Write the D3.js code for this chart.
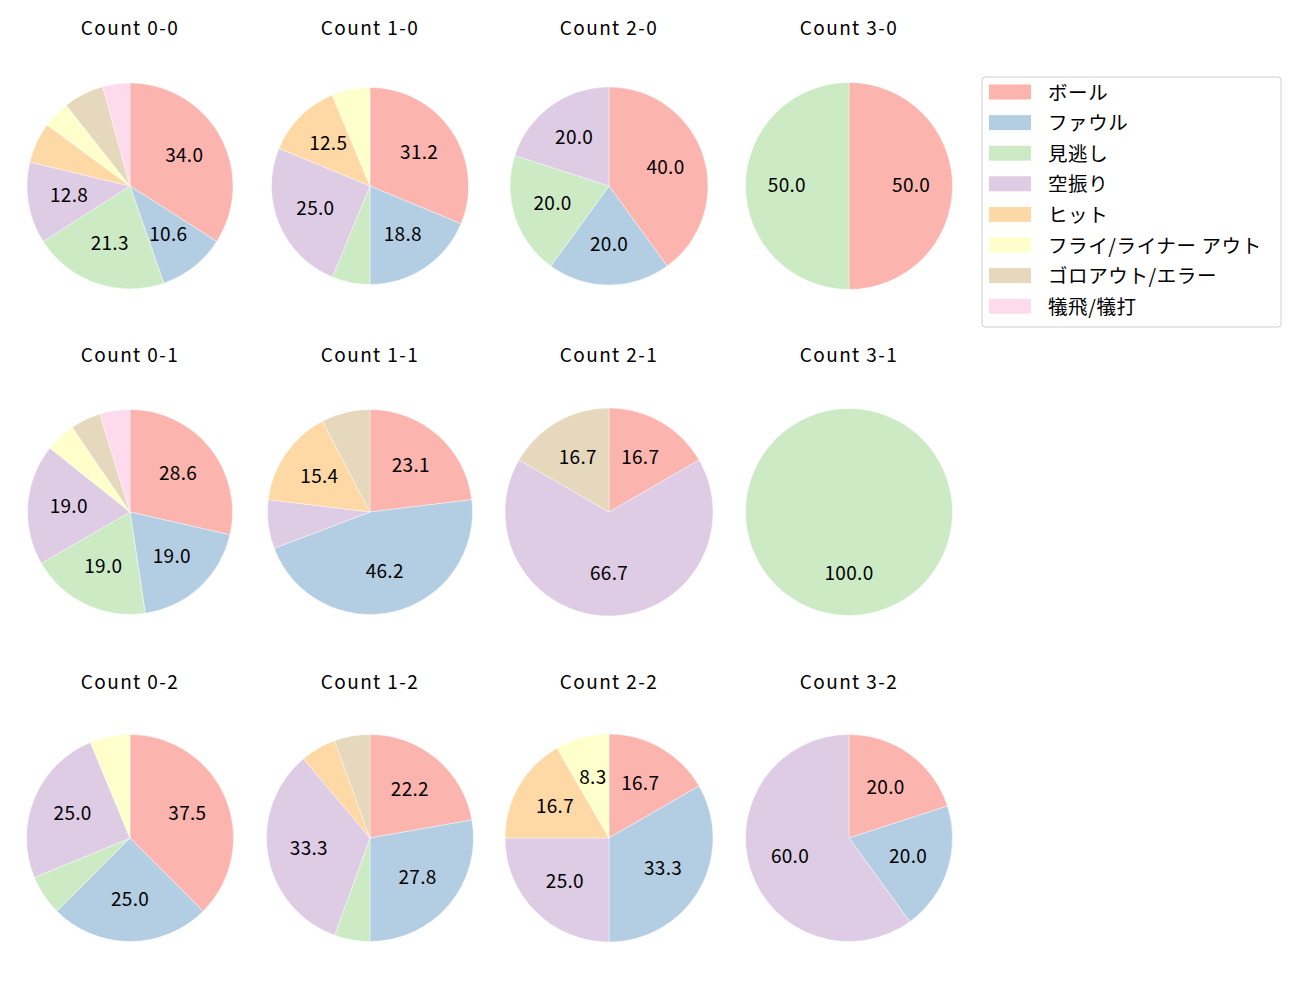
<!DOCTYPE html>
<html><head><meta charset="utf-8">
<script src="https://cdn.jsdelivr.net/npm/d3@7"></script>
<style>body{margin:0;background:#fff;} text{font-family:"Noto Sans CJK JP","Noto Sans",sans-serif;}</style>
</head><body>
<svg id="chart" width="1300" height="1000"></svg>
<script>
const categories = ["ボール","ファウル","見逃し","空振り","ヒット","フライ/ライナー アウト","ゴロアウト/エラー","犠飛/犠打"];
const colors = ["#fbb4ae","#b3cde3","#ccebc5","#decbe4","#fed9a6","#ffffcc","#e5d8bd","#fddaec"];
const counts = ["0-0","1-0","2-0","3-0","0-1","1-1","2-1","3-1","0-2","1-2","2-2","3-2"];
// pitch outcome counts per category, per ball-strike count
const v00 = [16,5,10,6,3,2,3,2];
const v10 = [5,3,1,4,2,1,0,0];
const v20 = [2,1,1,1,0,0,0,0];
const v30 = [1,0,1,0,0,0,0,0];
const v01 = [6,4,4,4,0,1,1,1];
const v11 = [3,6,0,1,2,0,1,0];
const v21 = [1,0,0,4,0,0,1,0];
const v31 = [0,0,1,0,0,0,0,0];
const v02 = [6,4,1,4,0,1,0,0];
const v12 = [4,5,1,6,1,0,1,0];
const v22 = [2,4,0,3,2,1,0,0];
const v32 = [1,1,0,3,0,0,0,0];
const series = [v00,v10,v20,v30,v01,v11,v21,v31,v02,v12,v22,v32];

// layout
const colX = [130,370,609,849];
const rowY = [186,512,838];
const titleY = [26.5,353.5,680.5];
const radii = [103,98.5,99,103.5, 102.5,102.5,104,103.5, 103.5,103.5,104,103.5];

// round-half-even formatting to one decimal (as Python's "%1.1f")
function fmt1(p){
  const x = p*10;
  const f = Math.floor(x);
  let n;
  if (x - f === 0.5) n = (f % 2 === 0) ? f : f+1;
  else n = Math.round(x);
  return (n/10).toFixed(1);
}

const svg = d3.select("#chart");
const pie = d3.pie().sort(null).value(d=>d.v).startAngle(0).endAngle(2*Math.PI);

counts.forEach((c,i)=>{
  const col = i%4, row = Math.floor(i/4);
  const cx = colX[col], cy = rowY[row], r = radii[i];
  const vals = series[i];
  const total = d3.sum(vals);
  const data = vals.map((v,k)=>({v, k})).filter(d=>d.v>0);
  const arcs = pie(data);
  const arc = d3.arc().innerRadius(0).outerRadius(r);
  const g = svg.append("g").attr("transform",`translate(${cx},${cy})`);
  g.selectAll("path").data(arcs).join("path")
    .attr("d",arc)
    .attr("fill",d=>colors[d.data.k])
    .attr("stroke","#fff").attr("stroke-width",0.4);
  const lab = d3.arc().innerRadius(r*0.6).outerRadius(r*0.6);
  g.selectAll("text.pct").data(arcs.filter(d=>d.data.v/total*100>8)).join("text")
    .attr("class","pct")
    .attr("x",d=>lab.centroid(d)[0])
    .attr("y",d=>lab.centroid(d)[1]-2.5)
    .attr("text-anchor","middle").attr("dominant-baseline","central")
    .attr("font-size",19).attr("letter-spacing",0.3).attr("fill","#000")
    .text(d=>fmt1(d.data.v/total*100));
  svg.append("text").attr("x",cx).attr("y",titleY[row])
    .attr("text-anchor","middle").attr("dominant-baseline","central")
    .attr("font-size",19).attr("letter-spacing",1.4).attr("fill","#000")
    .text("Count "+c);
});

// legend
const lg = svg.append("g");
lg.append("rect").attr("x",982).attr("y",77).attr("width",299).attr("height",250)
  .attr("rx",3).attr("fill","#fff").attr("stroke","#d0d0d0").attr("stroke-width",1);
categories.forEach((name,k)=>{
  const y = 92 + k*30.6;
  lg.append("rect").attr("x",989).attr("y",y-7.5).attr("width",42).attr("height",15).attr("fill",colors[k]);
  lg.append("text").attr("x",1048).attr("y",y-1).attr("dominant-baseline","central")
    .attr("font-size",19.5).attr("letter-spacing",0.6).attr("fill","#000").text(name);
});
</script>
</body></html>
